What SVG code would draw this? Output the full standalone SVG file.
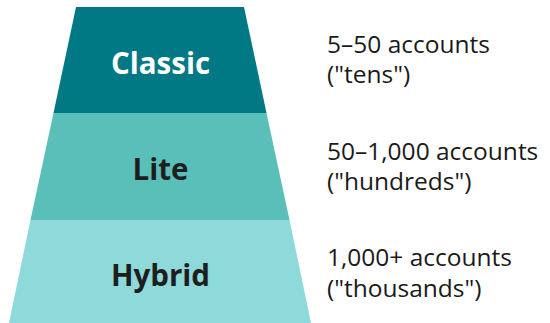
<svg xmlns="http://www.w3.org/2000/svg" width="550" height="323" viewBox="0 0 550 323">
  <style>
    .tier-label { font-family: "Open Sans", "Liberation Sans", sans-serif; font-weight: 700; font-size: 29.5px; text-anchor: middle; }
    .desc { font-family: "Open Sans", "Liberation Sans", sans-serif; font-weight: 500; font-size: 24.5px; fill: #1a1a1a; }
  </style>
  <rect width="550" height="323" fill="#ffffff"/>

  <!-- tiers of the funnel, narrowest at the top -->
  <g id="classic">
    <polygon points="76,7 244,7 266.5,113 53.5,113" fill="#017985"/>
    <text class="tier-label" x="160.5" y="74" fill="#ffffff">Classic</text>
  </g>
  <g id="lite">
    <polygon points="53.5,113 266.5,113 289.5,220 30.5,220" fill="#5bbfb9"/>
    <text class="tier-label" x="160.5" y="180" fill="#1e1e1e">Lite</text>
  </g>
  <g id="hybrid">
    <polygon points="30.5,220 289.5,220 311,323 9,323" fill="#8ed9d9"/>
    <text class="tier-label" x="160.5" y="286" fill="#1e1e1e">Hybrid</text>
  </g>

  <!-- account ranges beside each tier -->
  <g id="classic-range">
    <text class="desc" x="327" y="53">5–50 accounts<tspan x="327" dy="30">("tens")</tspan></text>
  </g>
  <g id="lite-range">
    <text class="desc" x="327" y="160">50–1,000 accounts<tspan x="327" dy="30">("hundreds")</tspan></text>
  </g>
  <g id="hybrid-range">
    <text class="desc" x="327" y="266">1,000+ accounts<tspan x="327" dy="31">("thousands")</tspan></text>
  </g>

  <g id="connectors"/>
</svg>
